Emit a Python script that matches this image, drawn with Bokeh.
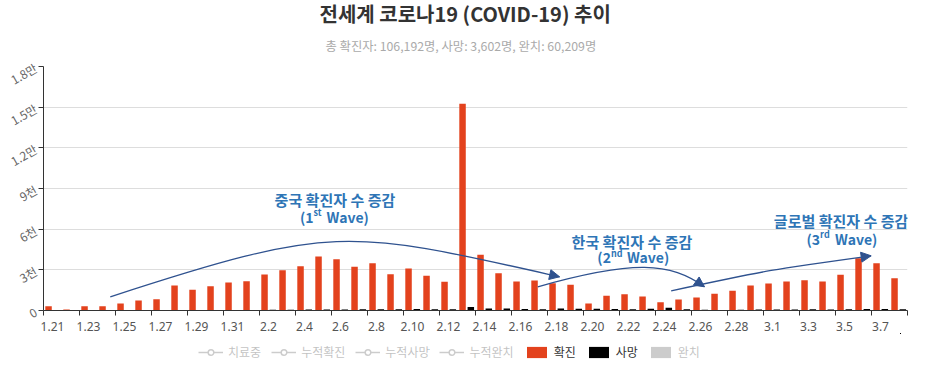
import math
from bokeh.plotting import figure
from bokeh.layouts import column
from bokeh.models import (ColumnDataSource, FixedTicker, Range1d, Title, Legend, LegendItem,
                          Label, Arrow, NormalHead)
from bokeh.transform import dodge
from bokeh.embed import file_html
from bokeh.resources import INLINE

# ---------------- data ----------------
dates = ["1.21", "1.22", "1.23", "1.24", "1.25", "1.26", "1.27", "1.28", "1.29", "1.30", "1.31",
         "2.1", "2.2", "2.3", "2.4", "2.5", "2.6", "2.7", "2.8", "2.9", "2.10", "2.11", "2.12",
         "2.13", "2.14", "2.15", "2.16", "2.17", "2.18", "2.19", "2.20", "2.21", "2.22", "2.23",
         "2.24", "2.25", "2.26", "2.27", "2.28", "2.29", "3.1", "3.2", "3.3", "3.4", "3.5", "3.6",
         "3.7", "3.8"]
confirmed = [320, 70, 320, 320, 517, 738, 836, 1845, 1525, 1796, 2066, 2165, 2657, 2977, 3272,
             3985, 3788, 3223, 3493, 2681, 3100, 2558, 2116, 15250, 4108, 2755, 2140, 2214, 2017,
             1894, 517, 1082, 1205, 1033, 615, 812, 959, 1230, 1451, 1845, 1993, 2140, 2239, 2140,
             2632, 3862, 3493, 2386]
deaths = [5, 8, 8, 16, 15, 24, 26, 26, 38, 43, 46, 45, 57, 64, 66, 73, 73, 86, 89, 97, 108, 97,
          100, 255, 150, 145, 110, 100, 140, 120, 120, 110, 100, 125, 210, 90, 60, 45, 60, 65,
          70, 75, 85, 80, 100, 105, 104, 98]
recovered = []          # hidden series (legend switched off)

y_ticks = [0, 3000, 6000, 9000, 12000, 15000, 18000]
y_tick_labels = ["0", "3천", "6천", "9천", "1.2만", "1.5만", "1.8만"]

title_text = "전세계 코로나19 (COVID-19) 추이"
subtitle_text = "총 확진자: 106,192명, 사망: 3,602명, 완치: 60,209명"
hidden_line_names = ["치료중", "누적확진", "누적사망", "누적완치"]

# annotations (data coordinates: x = day index, y = cases)
wave_texts = ["중국 확진자 수 증감", "한국 확진자 수 증감", "글로벌 확진자 수 증감"]
wave_nums = ["1", "2", "3"]
wave_sups = ["st", "nd", "rd"]
wave_text_xy = [(15.69, 8189), (32.19, 5090), (43.81, 6639)]
wave_sub_xy = [(15.67, 6898), (32.19, 3910), (43.81, 5311)]
# cubic curves: (x0, y0, cx0, cy0, cx1, cy1, x1, y1)
wave_curves = [
    (3.21, 1011, 15.66, 6396, 16.41, 6005, 28.17, 2486),
    (26.96, 1748, 32.35, 3771, 34.30, 3534, 36.22, 1748),
    (34.37, 1453, 39.93, 3024, 39.93, 3024, 45.48, 4035),
]

# ---------------- figure ----------------
FONT = "Noto Sans CJK KR"
RED = "#E3421D"
ARROW = "#2F528F"
BLUE = "#2E75B6"
HIDDEN = "#555555"

n = len(dates)
idx = list(range(n))
src = ColumnDataSource(dict(idx=idx, confirmed=confirmed, deaths=deaths))

p = figure(frame_width=864, frame_height=244,
           x_range=Range1d(-0.5, n - 0.5), y_range=Range1d(0, 18000),
           output_backend="svg", toolbar_location=None, title=None,
           min_border_left=0, min_border_right=15, min_border_top=0, min_border_bottom=0)
p.outline_line_color = None
p.background_fill_color = "white"

sub = Title(text=subtitle_text, align="left", text_font=FONT, text_font_size="12.3px",
            text_font_style="normal", text_color="#aaaaaa", offset=282, standoff=23)
p.add_layout(sub, "above")
tit = Title(text=title_text, align="left", text_font=FONT, text_font_size="20px",
            text_font_style="bold", text_color="#333333", offset=276, standoff=-8)
p.add_layout(tit, "above")

p.vbar(x=dodge("idx", -0.22, range=p.x_range), top="confirmed", width=0.36,
       source=src, fill_color=RED, line_color=None)
p.vbar(x=dodge("idx", 0.24, range=p.x_range), top="deaths", width=0.36,
       source=src, fill_color="black", line_color=None)
rec_src = ColumnDataSource(dict(idx=recovered, v=recovered))
p.vbar(x="idx", top="v", width=0.36, source=rec_src, fill_color=HIDDEN,
       line_color=None, visible=False)

# axes
xa = p.xaxis[0]
xa.ticker = FixedTicker(ticks=list(range(0, n, 2)),
                        minor_ticks=[i - 0.5 for i in range(0, n + 1, 2)])
xa.major_label_overrides = {i: dates[i] for i in range(0, n, 2)}
xa.major_tick_line_color = None
xa.minor_tick_line_color = "#333333"
xa.minor_tick_out = 5
xa.minor_tick_in = 0
xa.axis_line_color = "#333333"
xa.major_label_text_font = "Noto Sans"
xa.major_label_text_font_size = "12px"
xa.major_label_text_color = "#555555"
xa.major_label_standoff = 5
xa.axis_label_standoff = 0

ya = p.yaxis[0]
ya.ticker = FixedTicker(ticks=y_ticks, minor_ticks=[])
ya.major_label_overrides = {t: l for t, l in zip(y_ticks, y_tick_labels)}
ya.major_label_orientation = math.pi / 6
ya.major_label_text_font = FONT
ya.major_label_text_font_size = "12px"
ya.major_label_text_color = "#666666"
ya.axis_line_color = "#333333"
ya.major_tick_line_color = "#333333"
ya.major_tick_out = 5
ya.major_tick_in = 0
ya.minor_tick_line_color = None
ya.major_label_standoff = 3

p.xgrid.visible = False
p.ygrid.grid_line_color = "#dddddd"
p.ygrid.ticker = FixedTicker(ticks=y_ticks)

# annotations
for (x0, y0, cx0, cy0, cx1, cy1, x1, y1) in wave_curves:
    p.bezier(x0=[x0], y0=[y0], cx0=[cx0], cy0=[cy0], cx1=[cx1], cy1=[cy1], x1=[x1], y1=[y1],
             line_color=ARROW, line_width=1.3)
    xs = x1 - 0.02 * (x1 - cx1)
    ys = y1 - 0.02 * (y1 - cy1)
    p.add_layout(Arrow(end=NormalHead(size=10, fill_color=ARROW, line_color=ARROW),
                       x_start=xs, y_start=ys, x_end=x1, y_end=y1,
                       line_color=ARROW, line_width=1))

wave_word_offsets = [-8, -5, -6]
for txt, num, sup, (tx, ty), (sx, sy), wo in zip(wave_texts, wave_nums, wave_sups,
                                                  wave_text_xy, wave_sub_xy, wave_word_offsets):
    p.add_layout(Label(x=tx, y=ty, text=txt, text_align="center", text_baseline="middle",
                       text_font=FONT, text_font_size="15px", text_font_style="bold",
                       text_color=BLUE))
    p.add_layout(Label(x=sx, y=sy, text="(" + num, text_align="right", text_baseline="middle",
                       x_offset=-21, text_font=FONT, text_font_size="14px",
                       text_font_style="bold", text_color=BLUE))
    p.add_layout(Label(x=sx, y=sy, text=sup, text_align="left", text_baseline="middle",
                       x_offset=-21, y_offset=4, text_font=FONT, text_font_size="9px",
                       text_font_style="bold", text_color=BLUE))
    p.add_layout(Label(x=sx, y=sy, text="Wave)", text_align="left", text_baseline="middle",
                       x_offset=wo, text_font=FONT, text_font_size="14px",
                       text_font_style="bold", text_color=BLUE))

# ---------------- legend strip ----------------
# The strip's ranges lie away from the data, so its renderers only feed the legend.
lg = figure(width=915, height=26, output_backend="svg", toolbar_location=None,
            x_range=Range1d(-1000, -999), y_range=Range1d(-1001, -1000),
            x_axis_location=None, y_axis_location=None, min_border=0)
lg.outline_line_color = None
lg.xgrid.visible = False
lg.ygrid.visible = False

items = []
for name in hidden_line_names:
    rl = lg.line("idx", "confirmed", source=src, line_color=HIDDEN, line_width=1.5,
                 visible=False)
    rc = lg.scatter("idx", "confirmed", source=src, size=9, fill_color="white",
                    line_color=HIDDEN, line_width=1.5, visible=False)
    items.append(LegendItem(label=name, renderers=[rl, rc]))
lr = lg.vbar(x="idx", top="confirmed", width=0, source=src, fill_color=RED,
             line_color=None)
lb = lg.vbar(x="idx", top="deaths", width=0, source=src, fill_color="black",
             line_color=None)
lh = lg.vbar(x="idx", top="deaths", width=0, source=src, fill_color=HIDDEN,
             line_color=None, visible=False)
items += [LegendItem(label="확진", renderers=[lr]),
          LegendItem(label="사망", renderers=[lb]),
          LegendItem(label="완치", renderers=[lh])]

legend = Legend(items=items, orientation="horizontal", click_policy="hide",
                location=(155, -1), glyph_width=25, glyph_height=14, label_standoff=5,
                spacing=10, padding=0, margin=0, border_line_alpha=0,
                background_fill_alpha=0, label_text_font=FONT, label_text_font_size="12px",
                label_text_color="#333333", label_height=14,
                inactive_fill_color="white", inactive_fill_alpha=0.7)
lg.add_layout(legend, "center")

layout = column(p, lg, spacing=0)
open("out.html", "w").write(file_html(layout, INLINE))
